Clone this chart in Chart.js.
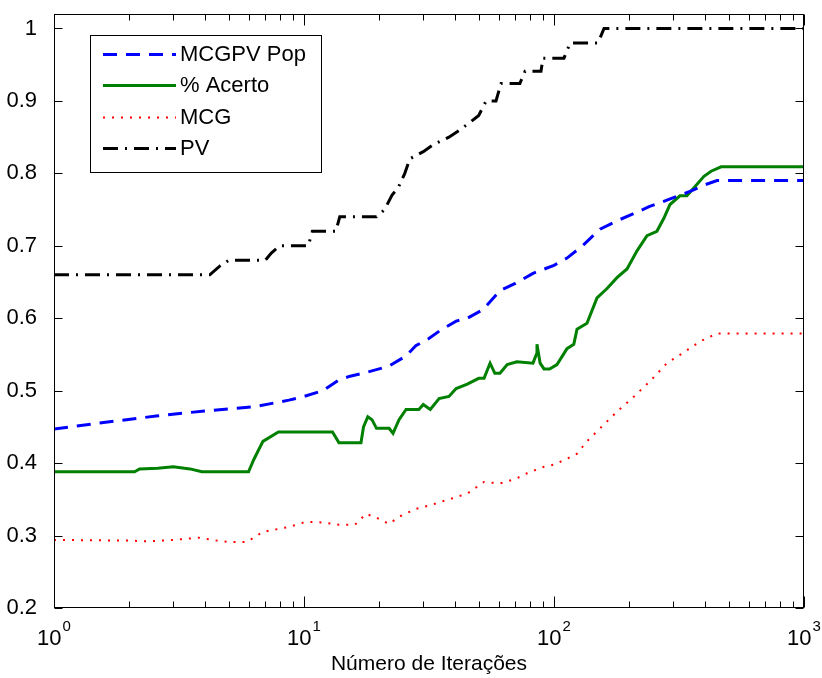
<!DOCTYPE html>
<html>
<head>
<meta charset="utf-8">
<script src="https://cdn.jsdelivr.net/npm/chart.js@4/dist/chart.umd.min.js"></script>
<style>
  body { margin: 0; background: #fff; }
  canvas { display: block; }
</style>
</head>
<body>
<canvas id="chart" width="822" height="678"></canvas>
<script>
// values (x = iteration, log scale)
const popIter = [1, 1.5, 2.56, 4, 6.4, 8.7, 10, 11.9, 13.8, 15.3, 17.2, 19, 21.9, 25.6, 28, 31.6, 35, 40.6, 45, 52, 60.8, 70, 82.4, 100, 112.7, 130, 152.8, 180, 207, 240, 283, 350, 400, 449, 1000];
const popValues = [0.447, 0.455, 0.465, 0.472, 0.478, 0.487, 0.492, 0.5, 0.515, 0.52, 0.524, 0.528, 0.534, 0.548, 0.562, 0.572, 0.583, 0.596, 0.6, 0.612, 0.638, 0.648, 0.662, 0.673, 0.683, 0.7, 0.723, 0.735, 0.744, 0.754, 0.763, 0.775, 0.784, 0.79, 0.79];

const acertoIter = [1, 2.1, 2.2, 2.6, 3, 3.5, 3.9, 6, 6.3, 6.85, 7.9, 13, 13.8, 16.9, 17.3, 18, 18.7, 19.5, 21.9, 22.7, 24, 25.6, 28.8, 30, 32, 34.7, 38, 40.6, 45, 50, 52.5, 55.5, 58, 60.8, 65, 71, 82.4, 85, 85.5, 88, 91.2, 96, 102.8, 112.7, 120, 123.6, 135.5, 148.6, 163, 178.6, 195.9, 214.8, 235.5, 258, 275, 291, 319, 340, 363, 398, 425, 466, 1000];
const acertoValues = [0.388, 0.388, 0.392, 0.393, 0.395, 0.392, 0.388, 0.388, 0.405, 0.43, 0.443, 0.443, 0.428, 0.428, 0.45, 0.464, 0.46, 0.448, 0.448, 0.441, 0.46, 0.474, 0.474, 0.481, 0.474, 0.489, 0.492, 0.503, 0.509, 0.517, 0.517, 0.538, 0.524, 0.524, 0.536, 0.54, 0.538, 0.55, 0.564, 0.538, 0.53, 0.53, 0.536, 0.558, 0.564, 0.585, 0.593, 0.628, 0.641, 0.656, 0.668, 0.693, 0.714, 0.72, 0.738, 0.757, 0.769, 0.769, 0.78, 0.796, 0.803, 0.809, 0.809];

const mcgIter = [1, 2, 2.4, 3, 3.8, 4.5, 5, 5.9, 6.85, 8.7, 10.2, 12, 13.8, 16, 17.7, 19.4, 21.9, 24, 28.1, 32.8, 38, 45, 52.5, 60.8, 70, 78, 91.2, 100, 112.7, 123.6, 135.5, 152.8, 178.6, 209, 242, 283, 331, 384, 449, 1000];
const mcgValues = [0.294, 0.293, 0.292, 0.294, 0.297, 0.293, 0.291, 0.291, 0.305, 0.312, 0.319, 0.318, 0.315, 0.315, 0.33, 0.325, 0.316, 0.326, 0.337, 0.343, 0.35, 0.358, 0.374, 0.372, 0.378, 0.386, 0.395, 0.398, 0.406, 0.413, 0.43, 0.448, 0.471, 0.492, 0.513, 0.538, 0.553, 0.568, 0.579, 0.579];

const pvIter = [1, 4.2, 4.6, 5, 7, 7.4, 8, 10.4, 10.8, 13.4, 13.9, 19.5, 21, 22.5, 23.8, 25.3, 26.5, 30, 33, 38, 42, 46, 50, 53.5, 58.6, 61.4, 73, 76.6, 88.7, 90.4, 109.6, 116, 150, 158.5, 1000];
const pvValues = [0.66, 0.66, 0.672, 0.68, 0.68, 0.69, 0.7, 0.7, 0.72, 0.72, 0.74, 0.74, 0.75, 0.77, 0.78, 0.8, 0.82, 0.83, 0.84, 0.85, 0.86, 0.87, 0.88, 0.9, 0.9, 0.924, 0.924, 0.941, 0.941, 0.959, 0.959, 0.98, 0.98, 1.0, 1.0];

const yTicks = [0.2, 0.3, 0.4, 0.5, 0.6, 0.7, 0.8, 0.9, 1];
const xDecades = [1, 10, 100, 1000];
const xTitle = 'Número de Iterações';

const toPoints = (xs, ys) => xs.map((v, i) => ({ x: v, y: ys[i] }));

Chart.defaults.font.family = '"Liberation Sans", Arial, sans-serif';
Chart.defaults.color = '#000';

// axis box, inward ticks, x labels with exponents and the legend box
const matlabFrame = {
    id: 'matlabFrame',
    afterDatasetsDraw(chart) {
        const { ctx, chartArea: a, scales } = chart;
        const xs = scales.x, ys = scales.y;
        ctx.save();
        ctx.strokeStyle = '#000';
        ctx.lineWidth = 1;
        ctx.setLineDash([]);
        const L = Math.round(a.left) + 0.5, R = Math.round(a.right) - 0.5;
        const T = Math.round(a.top) + 0.5, B = Math.round(a.bottom) - 0.5;
        ctx.strokeRect(L, T, R - L, B - T);

        ctx.beginPath();
        yTicks.forEach(v => {
            const py = Math.round(ys.getPixelForValue(v)) + 0.5;
            ctx.moveTo(L, py); ctx.lineTo(L + 8, py);
            ctx.moveTo(R, py); ctx.lineTo(R - 8, py);
        });
        xDecades.forEach(d => {
            for (let m = 1; m <= (d === 1000 ? 1 : 9); m++) {
                const px = Math.round(xs.getPixelForValue(d * m)) + 0.5;
                const len = m === 1 ? 11 : 6;
                ctx.moveTo(px, B); ctx.lineTo(px, B - len);
                ctx.moveTo(px, T); ctx.lineTo(px, T + len);
            }
        });
        ctx.stroke();

        // x tick labels: 10 with raised exponent
        ctx.fillStyle = '#000';
        ctx.textBaseline = 'alphabetic';
        xDecades.forEach((d, i) => {
            const px = xs.getPixelForValue(d);
            ctx.font = '22px "Liberation Sans", Arial, sans-serif';
            const wBase = ctx.measureText('10').width;
            ctx.font = '15px "Liberation Sans", Arial, sans-serif';
            const exp = String(i);
            const wExp = ctx.measureText(exp).width;
            const x0 = px - (wBase + wExp + 1) / 2;
            ctx.font = '22px "Liberation Sans", Arial, sans-serif';
            ctx.textAlign = 'left';
            ctx.fillText('10', x0, 645);
            ctx.font = '15px "Liberation Sans", Arial, sans-serif';
            ctx.fillText(exp, x0 + wBase + 1, 631);
        });

        // legend
        const lx = 90.5, ly = 35.5, lw = 231, lh = 137;
        ctx.fillStyle = '#fff';
        ctx.fillRect(lx, ly, lw, lh);
        ctx.strokeRect(lx, ly, lw, lh);
        ctx.font = '22px "Liberation Sans", Arial, sans-serif';
        ctx.textBaseline = 'middle';
        chart.data.datasets.forEach((ds, i) => {
            const yy = 54 + i * 31.3;
            ctx.save();
            ctx.strokeStyle = ds.borderColor;
            ctx.lineWidth = ds.borderWidth;
            ctx.setLineDash(ds.borderDash || []);
            ctx.beginPath();
            ctx.moveTo(103, Math.round(yy) + 0.5);
            ctx.lineTo(176, Math.round(yy) + 0.5);
            ctx.stroke();
            ctx.restore();
            ctx.fillStyle = '#000';
            ctx.fillText(ds.label, 180, yy + 1);
        });
        ctx.restore();
    }
};

const chart = new Chart(document.getElementById('chart').getContext('2d'), {
    type: 'line',
    data: {
        datasets: [
            {
                label: 'MCGPV Pop',
                data: toPoints(popIter, popValues),
                borderColor: '#0000ff',
                borderWidth: 3,
                borderDash: [14, 9]
            },
            {
                label: '% Acerto',
                data: toPoints(acertoIter, acertoValues),
                borderColor: '#008000',
                borderWidth: 3
            },
            {
                label: 'MCG',
                data: toPoints(mcgIter, mcgValues),
                borderColor: '#ff0000',
                borderWidth: 2,
                borderDash: [2, 7]
            },
            {
                label: 'PV',
                data: toPoints(pvIter, pvValues),
                borderColor: '#000000',
                borderWidth: 3,
                borderDash: [15, 7, 2, 7]
            }
        ]
    },
    options: {
        responsive: false,
        animation: false,
        events: [],
        layout: { padding: { top: 14, right: 18, left: 0, bottom: 0 } },
        elements: {
            point: { radius: 0 },
            line: { tension: 0, borderCapStyle: 'butt' }
        },
        plugins: {
            legend: { display: false },
            tooltip: { enabled: false }
        },
        scales: {
            x: {
                type: 'logarithmic',
                min: 1,
                max: 1000,
                grid: { display: false },
                border: { display: false },
                ticks: { display: false },
                afterFit: s => { s.height = 70; },
                title: {
                    display: true,
                    text: xTitle,
                    font: { size: 21 },
                    color: '#000',
                    padding: { top: 0, bottom: 1 }
                }
            },
            y: {
                type: 'linear',
                min: 0.2,
                max: 1.02,
                grid: { display: false },
                border: { display: false },
                afterBuildTicks: s => { s.ticks = yTicks.map(v => ({ value: v })); },
                afterFit: s => {
                    s.width = 54;
                    s.paddingTop = 0;
                    s.paddingBottom = 0;
                },
                ticks: {
                    padding: 9,
                    font: { size: 22 },
                    color: '#000',
                    callback: v => (v === 1 ? '1' : v.toFixed(1))
                }
            }
        }
    },
    plugins: [matlabFrame]
});
</script>
</body>
</html>
